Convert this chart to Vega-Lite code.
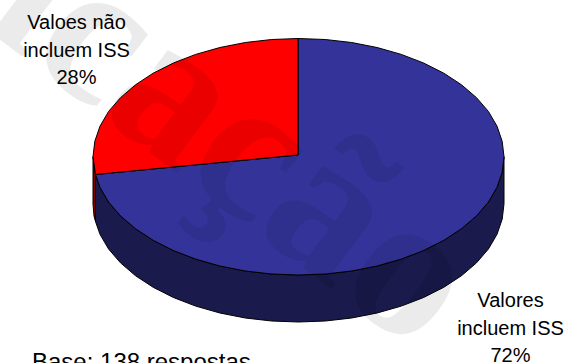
{
  "$schema": "https://vega.github.io/schema/vega-lite/v6.json",
  "width": 570,
  "height": 363,
  "padding": 0,
  "autosize": "none",
  "background": "white",
  "config": {"view": {"stroke": null}},
  "datasets": {
    "sideRed": [
      {"seq":1,"x":93,"y":156.75},{"seq":2,"x":93,"y":204},{"seq":3,"x":94,"y":216},{"seq":4,"x":95.5,"y":221.5},{"seq":5,"x":95.5,"y":174.5},{"seq":6,"x":93,"y":156.75}
    ],
    "sideBlue": [
      {"seq":1,"x":95.5,"y":174.5},{"seq":2,"x":100,"y":187.35},{"seq":3,"x":108.6,"y":202.05},{"seq":4,"x":120.5,"y":215.85},{"seq":5,"x":135.5,"y":228.7},{"seq":6,"x":153.2,"y":240.3},{"seq":7,"x":173.4,"y":250.5},{"seq":8,"x":195.7,"y":259.1},{"seq":9,"x":219.9,"y":266},{"seq":10,"x":245.3,"y":271},{"seq":11,"x":271.7,"y":274},{"seq":12,"x":298.5,"y":275},{"seq":13,"x":325.3,"y":274},{"seq":14,"x":351.7,"y":271},{"seq":15,"x":377.1,"y":266},{"seq":16,"x":401.3,"y":259.1},{"seq":17,"x":423.6,"y":250.5},{"seq":18,"x":443.8,"y":240.3},{"seq":19,"x":461.5,"y":228.7},{"seq":20,"x":476.5,"y":215.85},{"seq":21,"x":488.4,"y":202.05},{"seq":22,"x":497,"y":187.35},{"seq":23,"x":502.2,"y":172.15},{"seq":24,"x":504,"y":156.75},
      {"seq":25,"x":504,"y":203.75},{"seq":26,"x":502.2,"y":219.15},{"seq":27,"x":497,"y":234.35},{"seq":28,"x":488.4,"y":249.05},{"seq":29,"x":476.5,"y":262.85},{"seq":30,"x":461.5,"y":275.7},{"seq":31,"x":443.8,"y":287.3},{"seq":32,"x":423.6,"y":297.5},{"seq":33,"x":401.3,"y":306.1},{"seq":34,"x":377.1,"y":313},{"seq":35,"x":351.7,"y":318},{"seq":36,"x":325.3,"y":321},{"seq":37,"x":298.5,"y":322},{"seq":38,"x":271.7,"y":321},{"seq":39,"x":245.3,"y":318},{"seq":40,"x":219.9,"y":313},{"seq":41,"x":195.7,"y":306.1},{"seq":42,"x":173.4,"y":297.5},{"seq":43,"x":153.2,"y":287.3},{"seq":44,"x":135.5,"y":275.7},{"seq":45,"x":120.5,"y":262.85},{"seq":46,"x":108.6,"y":249.05},{"seq":47,"x":100,"y":234.35},{"seq":48,"x":95.5,"y":221.5},{"seq":49,"x":95.5,"y":174.5}
    ],
    "topBlue": [
      {"seq":1,"x":298,"y":155},{"seq":2,"x":298,"y":38.5},{"seq":3,"x":325.3,"y":39.5},{"seq":4,"x":351.7,"y":42.5},{"seq":5,"x":377.1,"y":47.5},{"seq":6,"x":401.3,"y":54.4},{"seq":7,"x":423.6,"y":63},{"seq":8,"x":443.8,"y":73.2},{"seq":9,"x":461.5,"y":84.8},{"seq":10,"x":476.5,"y":97.65},{"seq":11,"x":488.4,"y":111.45},{"seq":12,"x":497,"y":126.15},{"seq":13,"x":502.2,"y":141.35},{"seq":14,"x":504,"y":156.75},{"seq":15,"x":502.2,"y":172.15},{"seq":16,"x":497,"y":187.35},{"seq":17,"x":488.4,"y":202.05},{"seq":18,"x":476.5,"y":215.85},{"seq":19,"x":461.5,"y":228.7},{"seq":20,"x":443.8,"y":240.3},{"seq":21,"x":423.6,"y":250.5},{"seq":22,"x":401.3,"y":259.1},{"seq":23,"x":377.1,"y":266},{"seq":24,"x":351.7,"y":271},{"seq":25,"x":325.3,"y":274},{"seq":26,"x":298.5,"y":275},{"seq":27,"x":271.7,"y":274},{"seq":28,"x":245.3,"y":271},{"seq":29,"x":219.9,"y":266},{"seq":30,"x":195.7,"y":259.1},{"seq":31,"x":173.4,"y":250.5},{"seq":32,"x":153.2,"y":240.3},{"seq":33,"x":135.5,"y":228.7},{"seq":34,"x":120.5,"y":215.85},{"seq":35,"x":108.6,"y":202.05},{"seq":36,"x":100,"y":187.35},{"seq":37,"x":95.5,"y":174.5},{"seq":38,"x":298,"y":155}
    ],
    "topRed": [
      {"seq":1,"x":298,"y":155},{"seq":2,"x":95.5,"y":174.5},{"seq":3,"x":93,"y":156.75},{"seq":4,"x":94.8,"y":141.35},{"seq":5,"x":100,"y":126.15},{"seq":6,"x":108.6,"y":111.45},{"seq":7,"x":120.5,"y":97.65},{"seq":8,"x":135.5,"y":84.8},{"seq":9,"x":153.2,"y":73.2},{"seq":10,"x":173.4,"y":63},{"seq":11,"x":195.7,"y":54.4},{"seq":12,"x":219.9,"y":47.5},{"seq":13,"x":245.3,"y":42.5},{"seq":14,"x":271.7,"y":39.5},{"seq":15,"x":298,"y":38.5},{"seq":16,"x":298,"y":155}
    ],
    "labels": [
      {"x":76.5,"y":23,"text":"Valoes não"},
      {"x":76.5,"y":50.5,"text":"incluem ISS"},
      {"x":76.5,"y":78,"text":"28%"},
      {"x":510.5,"y":301,"text":"Valores"},
      {"x":510.5,"y":328.5,"text":"incluem ISS"},
      {"x":510.5,"y":355.5,"text":"72%"}
    ],
    "note": [{"x":32,"y":363,"text":"Base: 138 respostas"}],
    "stamp": [{"x":416,"y":353,"text":"Publicação"}]
  },
  "layer": [
    {
      "data": {"name": "sideRed"},
      "mark": {"type": "line", "fill": "#800000", "stroke": "#000000", "strokeWidth": 1},
      "encoding": {
        "x": {"field": "x", "type": "quantitative", "scale": {"domain": [0, 570], "nice": false, "zero": false}, "axis": null},
        "y": {"field": "y", "type": "quantitative", "scale": {"domain": [363, 0], "nice": false, "zero": false}, "axis": null},
        "order": {"field": "seq", "type": "quantitative"}
      }
    },
    {
      "data": {"name": "sideBlue"},
      "mark": {"type": "line", "fill": "#1A1A4D", "stroke": "#000000", "strokeWidth": 1},
      "encoding": {
        "x": {"field": "x", "type": "quantitative", "axis": null},
        "y": {"field": "y", "type": "quantitative", "axis": null},
        "order": {"field": "seq", "type": "quantitative"}
      }
    },
    {
      "data": {"name": "topBlue"},
      "mark": {"type": "line", "fill": "#333399", "stroke": "#000000", "strokeWidth": 1},
      "encoding": {
        "x": {"field": "x", "type": "quantitative", "axis": null},
        "y": {"field": "y", "type": "quantitative", "axis": null},
        "order": {"field": "seq", "type": "quantitative"}
      }
    },
    {
      "data": {"name": "topRed"},
      "mark": {"type": "line", "fill": "#FF0000", "stroke": "#000000", "strokeWidth": 1},
      "encoding": {
        "x": {"field": "x", "type": "quantitative", "axis": null},
        "y": {"field": "y", "type": "quantitative", "axis": null},
        "order": {"field": "seq", "type": "quantitative"}
      }
    },
    {
      "data": {"name": "stamp"},
      "mark": {"type": "text", "font": "Liberation Sans Narrow", "fontWeight": "bold", "fontSize": 205, "angle": 37, "align": "right", "baseline": "alphabetic", "color": "#000000", "opacity": 0.075},
      "encoding": {
        "x": {"field": "x", "type": "quantitative", "axis": null},
        "y": {"field": "y", "type": "quantitative", "axis": null},
        "text": {"field": "text"}
      }
    },
    {
      "data": {"name": "labels"},
      "mark": {"type": "text", "font": "Liberation Sans", "fontSize": 20, "align": "center", "baseline": "middle", "color": "#000000"},
      "encoding": {
        "x": {"field": "x", "type": "quantitative", "axis": null},
        "y": {"field": "y", "type": "quantitative", "axis": null},
        "text": {"field": "text"}
      }
    },
    {
      "data": {"name": "note"},
      "mark": {"type": "text", "font": "Liberation Sans", "fontSize": 24, "align": "left", "baseline": "middle", "color": "#000000"},
      "encoding": {
        "x": {"field": "x", "type": "quantitative", "axis": null},
        "y": {"field": "y", "type": "quantitative", "axis": null},
        "text": {"field": "text"}
      }
    }
  ]
}
